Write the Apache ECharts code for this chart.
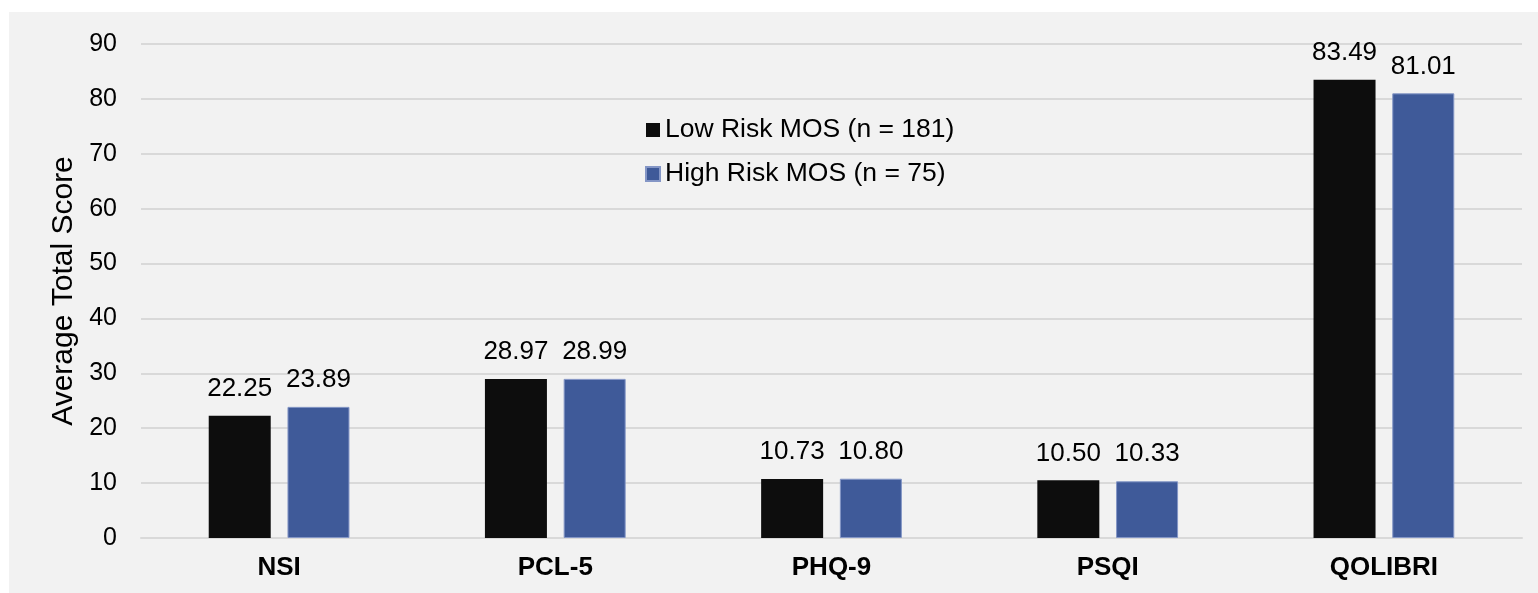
<!DOCTYPE html>
<html>
<head>
<meta charset="utf-8">
<script src="https://cdn.jsdelivr.net/npm/echarts@6/dist/echarts.min.js"></script>
<style>
  html, body { margin: 0; padding: 0; background: #ffffff; }
  #chart { width: 1538px; height: 593px; }
</style>
</head>
<body>
<div id="chart"></div>
<script>
// Measures compared between the two groups
const categories = ['NSI', 'PCL-5', 'PHQ-9', 'PSQI', 'QOLIBRI'];
const lowRisk = [22.25, 28.97, 10.73, 10.50, 83.49];
const highRisk = [23.89, 28.99, 10.80, 10.33, 81.01];
const seriesNames = ['Low Risk MOS (n = 181)', 'High Risk MOS (n = 75)'];
const yTicks = { min: 0, max: 90, interval: 10 };
const yTitle = 'Average Total Score';

const font = 'Arial, "Liberation Sans", sans-serif';

const chart = echarts.init(document.getElementById('chart'), null, { renderer: 'canvas' });

const valueLabel = {
  show: true,
  position: 'top',
  distance: 14,
  color: '#000000',
  fontFamily: font,
  fontSize: 26,
  formatter: p => p.value.toFixed(2)
};

chart.setOption({
  backgroundColor: '#ffffff',
  animation: false,
  graphic: {
    elements: [{
      type: 'rect',
      z: -100,
      silent: true,
      shape: { x: 9, y: 12, width: 1529, height: 581 },
      style: { fill: '#f2f2f2' }
    }]
  },
  grid: { left: 141, right: 16, top: 44, bottom: 55, containLabel: false },
  legend: {
    orient: 'vertical',
    left: 640,
    top: 110,
    itemWidth: 14,
    itemHeight: 14,
    itemGap: 14,
    icon: 'rect',
    textStyle: { color: '#000000', fontFamily: font, fontSize: 26.5, lineHeight: 30, padding: [0, 0, 0, 0] },
    data: seriesNames
  },
  xAxis: {
    type: 'category',
    data: categories,
    axisLine: { show: true, lineStyle: { color: '#d9d9d9', width: 2 } },
    axisTick: { show: false },
    axisLabel: { color: '#000000', fontFamily: font, fontSize: 26, fontWeight: 'bold', margin: 17 }
  },
  yAxis: {
    type: 'value',
    min: yTicks.min,
    max: yTicks.max,
    interval: yTicks.interval,
    name: yTitle,
    nameLocation: 'middle',
    nameRotate: 90,
    nameGap: 62,
    nameTextStyle: { color: '#000000', fontFamily: font, fontSize: 30 },
    axisLine: { show: false },
    axisTick: { show: false },
    axisLabel: { color: '#000000', fontFamily: font, fontSize: 25, margin: 24 },
    splitLine: { show: true, lineStyle: { color: '#d9d9d9', width: 2 } }
  },
  series: [
    {
      name: seriesNames[0],
      type: 'bar',
      data: lowRisk,
      barWidth: 62,
      barGap: '27%',
      itemStyle: { color: '#0d0d0d' },
      label: valueLabel
    },
    {
      name: seriesNames[1],
      type: 'bar',
      data: highRisk,
      barWidth: 62,
      barGap: '27%',
      itemStyle: { color: '#3f5a99', borderColor: '#8496c6', borderWidth: 1 },
      label: valueLabel
    }
  ]
});
</script>
</body>
</html>
